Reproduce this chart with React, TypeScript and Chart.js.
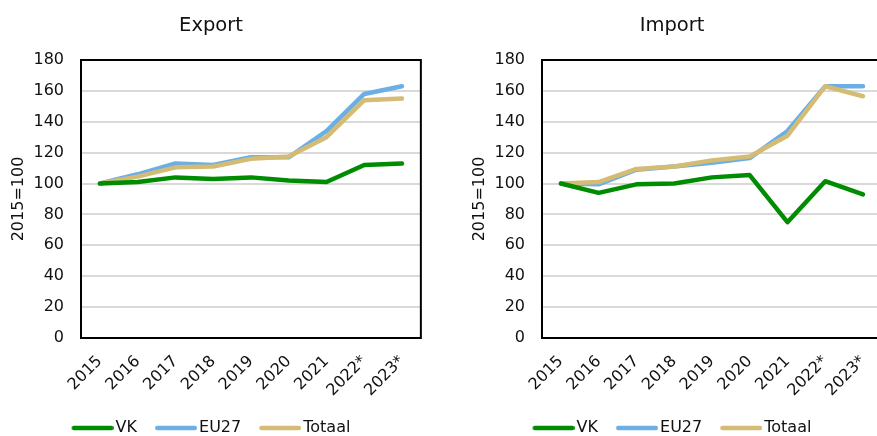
import React, { useEffect, useRef } from 'react';
import { Chart, registerables } from 'chart.js';

Chart.register(...registerables);

// Index values, 2015 = 100
const years = ['2015', '2016', '2017', '2018', '2019', '2020', '2021', '2022*', '2023*'];

const exportVK = [100, 101, 104, 103, 104, 102, 101, 112, 113];
const exportEU27 = [100, 106, 113, 112, 117, 117, 134, 158, 163];
const exportTotaal = [100, 104.5, 110.5, 111, 116, 117.5, 130, 154, 155];

const importVK = [100, 94, 99.5, 100, 104, 105.5, 75, 101.5, 93];
const importEU27 = [100, 99.5, 109, 111, 113.5, 116.5, 134, 163, 163];
const importTotaal = [100, 101, 109.5, 111, 115, 117.5, 131, 163, 156.5];

const seriesNames = ['VK', 'EU27', 'Totaal'];
const seriesColors = ['#008c00', '#6caee6', '#d4bc74'];
// lower value is drawn on top
const seriesOrder = [0, 2, 1];

const yTicksMin = 0;
const yTicksMax = 180;
const yTicksStep = 20;
const yTitle = '2015=100';

const FONT = "'DejaVu Sans', Verdana, sans-serif";
const TEXT = '#111';

const CANVAS_W = 430;
const CANVAS_H = 446;
const LINE_W = 4.5;

// legend swatch: a short thick line, shifted so it sits close to its label
const SWATCH_BOX = 36;
const SWATCH_IMG = 48;
function makeSwatch(color: string) {
  const c = document.createElement('canvas');
  c.width = SWATCH_IMG;
  c.height = 8;
  const g = c.getContext('2d')!;
  g.strokeStyle = color;
  g.lineWidth = LINE_W;
  g.lineCap = 'round';
  g.beginPath();
  g.moveTo(6 + LINE_W / 2, 4);
  g.lineTo(SWATCH_IMG - LINE_W / 2, 4);
  g.stroke();
  return c;
}

// black box around the plot area
const plotFrame = {
  id: 'plotFrame',
  afterDatasetsDraw(chart: any) {
    const { ctx, chartArea } = chart;
    ctx.save();
    ctx.strokeStyle = '#000';
    ctx.lineWidth = 2;
    ctx.strokeRect(chartArea.left, chartArea.top, chartArea.right - chartArea.left, chartArea.bottom - chartArea.top);
    ctx.restore();
  },
};

function Panel({ title, values, left }: { title: string; values: number[][]; left: number }) {
  const ref = useRef<HTMLCanvasElement>(null);

  useEffect(() => {
    if (!ref.current) return;
    const swatches = seriesColors.map(makeSwatch);
    const defaultLabels = Chart.defaults.plugins.legend.labels.generateLabels;
    const chart = new Chart(ref.current, {
      type: 'line',
      data: {
        labels: years,
        datasets: values.map((v, i) => ({
          label: seriesNames[i],
          data: v,
          borderColor: seriesColors[i],
          backgroundColor: seriesColors[i],
          borderWidth: LINE_W,
          borderCapStyle: 'round',
          borderJoinStyle: 'round',
          pointRadius: 0,
          tension: 0,
          fill: false,
          order: seriesOrder[i],
        })),
      },
      options: {
        responsive: false,
        animation: false,
        layout: { padding: { left: 0, right: 8, top: 0, bottom: 0 } },
        plugins: {
          title: {
            display: true,
            text: title,
            color: TEXT,
            font: { family: FONT, size: 19.5, weight: 'normal' },
            padding: { top: 14, bottom: 22.6 },
          },
          legend: {
            position: 'bottom',
            labels: {
              usePointStyle: true,
              pointStyleWidth: SWATCH_BOX,
              padding: 18,
              color: TEXT,
              font: { family: FONT, size: 16 },
              generateLabels: (ch: any) =>
                defaultLabels(ch).map((item: any) => ({
                  ...item,
                  pointStyle: swatches[item.datasetIndex],
                })),
              sort: (a: any, b: any) => a.datasetIndex - b.datasetIndex,
            },
          },
          tooltip: { enabled: false },
        },
        scales: {
          x: {
            offset: true,
            grid: { display: false, drawTicks: false },
            border: { display: false },
            ticks: {
              autoSkip: false,
              minRotation: 45,
              maxRotation: 45,
              padding: 14,
              color: TEXT,
              font: { family: FONT, size: 16 },
            },
            afterFit: (s: any) => {
              s.height = 64;
            },
          },
          y: {
            min: yTicksMin,
            max: yTicksMax,
            ticks: {
              stepSize: yTicksStep,
              padding: 17,
              color: TEXT,
              font: { family: FONT, size: 16 },
            },
            grid: { color: '#d9d9d9', lineWidth: 2, drawTicks: false },
            border: { display: false },
            title: {
              display: true,
              text: yTitle,
              color: TEXT,
              font: { family: FONT, size: 16 },
              padding: { top: 9, bottom: 0 },
            },
            afterFit: (s: any) => {
              s.width = 81;
            },
          },
        },
      } as any,
      plugins: [plotFrame],
    });
    return () => chart.destroy();
  }, [title, values]);

  return (
    <div style={{ position: 'absolute', left, top: 0, width: CANVAS_W, height: CANVAS_H }}>
      <canvas ref={ref} width={CANVAS_W} height={CANVAS_H} style={{ display: 'block' }} />
    </div>
  );
}

const exportSeries = [exportVK, exportEU27, exportTotaal];
const importSeries = [importVK, importEU27, importTotaal];

export default function App() {
  return (
    <div
      style={{
        position: 'fixed',
        left: 0,
        top: 0,
        width: 877,
        height: 436,
        overflow: 'hidden',
        background: '#fff',
      }}
    >
      <Panel title="Export" values={exportSeries} left={0} />
      <Panel title="Import" values={importSeries} left={461} />
    </div>
  );
}
